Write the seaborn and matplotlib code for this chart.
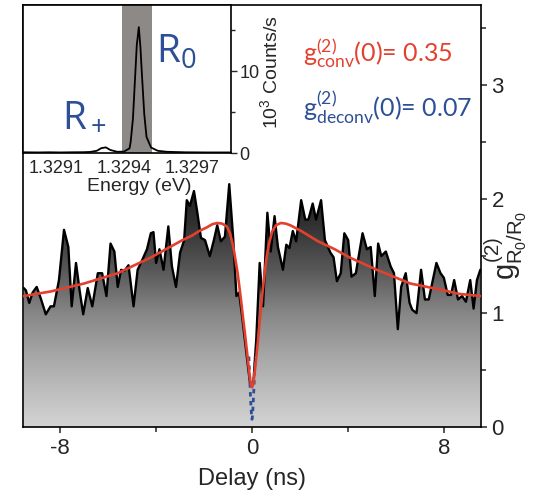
import numpy as np
import pandas as pd
import matplotlib
matplotlib.use("Agg")
import matplotlib.pyplot as plt
import seaborn as sns
from matplotlib.colors import LinearSegmentedColormap
from matplotlib.patches import Polygon
from matplotlib.ticker import MultipleLocator, FixedLocator
from matplotlib.transforms import ScaledTranslation

# ---------------- data ----------------
delay_ns = [-9.52, -9.43, -9.29, -9.15, -8.98, -8.81, -8.60, -8.40, -8.26, -8.05, -7.84,
            -7.66, -7.52, -7.34, -7.19, -7.04, -6.85, -6.66, -6.43, -6.25, -6.07,
            -5.90, -5.74, -5.60, -5.46, -5.32, -5.15, -4.94, -4.77, -4.59, -4.38,
            -4.22, -4.11, -4.00, -3.86, -3.69, -3.49, -3.34, -3.17, -3.00, -2.83,
            -2.72, -2.59, -2.42, -2.28, -2.13, -1.96, -1.76, -1.59, -1.45, -1.30,
            -1.13, -0.95, -0.79, -0.65, -0.54, -0.40, -0.24, -0.08, 0.06, 0.18,
            0.32, 0.46, 0.64, 0.78, 0.94, 1.08, 1.29, 1.43, 1.56, 1.70,
            1.84, 2.05, 2.22, 2.35, 2.53, 2.67, 2.88, 3.04, 3.27, 3.40,
            3.54, 3.70, 3.85, 4.01, 4.15, 4.33, 4.61, 4.79, 4.95, 5.12,
            5.26, 5.39, 5.58, 5.78, 5.92, 6.08, 6.22, 6.41, 6.57, 6.68,
            6.86, 7.05, 7.21, 7.37, 7.51, 7.69, 7.86, 8.00, 8.16, 8.30,
            8.43, 8.59, 8.76, 8.92, 9.10, 9.24, 9.38, 9.52]
g2_measured = [1.22, 1.20, 1.09, 1.18, 1.23, 1.13, 0.99, 1.06, 1.06, 1.29, 1.73,
               1.58, 1.06, 1.44, 1.20, 0.99, 1.22, 1.06, 1.35, 1.35, 1.15,
               1.61, 1.54, 1.23, 1.38, 1.37, 1.42, 1.06, 1.38, 1.46, 1.56,
               1.70, 1.71, 1.44, 1.56, 1.38, 1.76, 1.41, 1.23, 1.53, 1.64,
               1.99, 1.94, 2.07, 1.88, 1.66, 1.64, 1.50, 1.64, 1.77, 1.63,
               1.67, 2.13, 1.67, 1.15, 1.18, 0.95, 0.66, 0.38, 0.40, 0.78,
               1.44, 1.06, 1.88, 1.54, 1.85, 1.58, 1.38, 1.60, 1.57, 1.72,
               1.63, 1.99, 1.82, 1.82, 1.96, 1.82, 1.99, 1.64, 1.53, 1.49,
               1.28, 1.35, 1.70, 1.64, 1.32, 1.35, 1.70, 1.56, 1.58, 1.15,
               1.61, 1.50, 1.54, 1.41, 1.35, 0.86, 1.23, 1.35, 1.09, 1.03,
               1.00, 1.38, 1.12, 1.12, 1.26, 1.44, 1.35, 1.31, 1.16, 1.16,
               1.29, 1.12, 1.15, 1.10, 1.29, 1.04, 1.29, 1.38]

fit_delay = [-9.52, -8.4, -7.0, -5.6, -4.2, -2.9, -2.5, -2.2, -1.9, -1.65, -1.45, -1.25,
             -1.05, -0.92, -0.8, -0.7, -0.6, -0.52, -0.45, -0.38, -0.3, -0.23, -0.16,
             -0.1, -0.05, 0.0, 0.05, 0.1, 0.16, 0.23, 0.3, 0.37, 0.44, 0.52, 0.6,
             0.72, 0.85, 1.0, 1.2, 1.4, 1.6, 2.05, 2.75, 3.45, 4.05, 5.2, 6.6,
             8.0, 8.6, 9.52]
fit_conv = [1.15, 1.19, 1.26, 1.35, 1.49, 1.64, 1.68, 1.72, 1.75, 1.78, 1.79, 1.785,
            1.76, 1.70, 1.60, 1.48, 1.35, 1.22, 1.10, 0.97, 0.83, 0.70, 0.57,
            0.46, 0.38, 0.35, 0.38, 0.46, 0.58, 0.72, 0.88, 1.04, 1.19, 1.34, 1.48,
            1.62, 1.72, 1.77, 1.79, 1.785, 1.77, 1.72, 1.63, 1.56, 1.49, 1.38, 1.26,
            1.20, 1.17, 1.15]

deconv_delay = [-0.13, -0.10, -0.07, -0.045, -0.02, 0.0, 0.02, 0.045, 0.07, 0.10, 0.13]
deconv_g2 = [0.62, 0.45, 0.30, 0.19, 0.10, 0.07, 0.10, 0.19, 0.30, 0.45, 0.62]

energy_ev = [1.32898, 1.32905, 1.32910, 1.32915, 1.32920, 1.32925, 1.32928, 1.32931,
             1.32933, 1.32935, 1.32937, 1.32940, 1.32943, 1.329455, 1.32946, 1.32947,
             1.32948, 1.329487, 1.329496, 1.329503, 1.32951, 1.32952, 1.32953, 1.32955,
             1.32958, 1.32962, 1.32970, 1.32980, 1.32991]
counts_k = [0.12, 0.10, 0.12, 0.10, 0.12, 0.13, 0.16, 0.30,
            0.62, 0.72, 0.40, 0.18, 0.20, 0.6, 1.4, 4.2,
            9.5, 13.2, 15.4, 13.0, 9.5, 4.8, 2.0, 0.7,
            0.3, 0.18, 0.12, 0.10, 0.10]
filter_band = [1.329422, 1.329555]

delay_ticks = [-8, 0, 8]
g2_ticks = [0, 1, 2, 3]
energy_ticks = [1.3291, 1.3294, 1.3297]
energy_ticklabels = ["1.3291", "1.3294", "1.3297"]

# ---------------- style ----------------
sns.set_style("white")
plt.rcParams["font.family"] = ["Liberation Sans", "DejaVu Sans"]
plt.rcParams["mathtext.fontset"] = "custom"
plt.rcParams["mathtext.rm"] = "Liberation Sans"
plt.rcParams["mathtext.it"] = "Liberation Sans"
plt.rcParams["axes.linewidth"] = 1.2
plt.rcParams["axes.unicode_minus"] = False

RED = "#e4402e"
BLUE = "#2c4f97"
fig = plt.figure(figsize=(5.57, 4.96), dpi=100)
ax = fig.add_axes([0.0413, 0.1385, 0.8223, 0.8514])

df = pd.DataFrame({"delay": delay_ns, "g2": g2_measured})
fit_df = pd.DataFrame({"delay": fit_delay, "g2": fit_conv})
dec_df = pd.DataFrame({"delay": deconv_delay, "g2": deconv_g2})

xlo, xhi = -9.55, 9.55
ylo, yhi = 0.0, 3.70

# gray gradient under the measured curve
grad_cmap = LinearSegmentedColormap.from_list(
    "under", [(0.0, (0.83,) * 3), (0.18, (0.72,) * 3), (0.30, (0.64,) * 3),
              (0.45, (0.53,) * 3), (0.63, (0.34,) * 3), (0.81, (0.19,) * 3),
              (1.0, (0.10,) * 3)])
grad = np.linspace(0, 1, 256).reshape(-1, 1)
im = ax.imshow(grad, cmap=grad_cmap, vmin=0, vmax=1, origin="lower", aspect="auto",
               extent=[xlo, xhi, 0.0, 2.2], zorder=1, interpolation="bicubic")
verts = list(zip(df["delay"], df["g2"])) + [(df["delay"].iloc[-1], 0.0), (df["delay"].iloc[0], 0.0)]
clip = Polygon(verts, closed=True, transform=ax.transData, facecolor="none", edgecolor="none")
ax.add_patch(clip)
im.set_clip_path(clip)

sns.lineplot(data=df, x="delay", y="g2", ax=ax, color="black", lw=1.7, zorder=3)
sns.lineplot(data=dec_df, x="delay", y="g2", ax=ax, color=BLUE, lw=2.0, zorder=4,
             linestyle=(0, (1.6, 1.6)))
sns.lineplot(data=fit_df, x="delay", y="g2", ax=ax, color=RED, lw=1.9, zorder=5)

ax.set_xlim(xlo, xhi)
ax.set_ylim(ylo, yhi)
ax.yaxis.tick_right()
ax.yaxis.set_label_position("right")
ax.xaxis.set_major_locator(FixedLocator(delay_ticks))
ax.xaxis.set_minor_locator(FixedLocator([-4, 4]))
ax.yaxis.set_major_locator(FixedLocator(g2_ticks))
ax.yaxis.set_minor_locator(MultipleLocator(0.5))
ax.tick_params(axis="both", which="major", direction="out", length=4.5, width=1.1,
               labelsize=16, pad=3)
ax.tick_params(axis="both", which="minor", direction="out", length=3.5, width=1.1)
ax.tick_params(axis="y", which="both", left=False, right=True)
ax.tick_params(axis="x", which="both", top=False, bottom=True)
ax.set_xlabel("Delay (ns)", fontsize=17, labelpad=7)
ax.set_ylabel(r"$g^{(2)}_{R_0/R_0}$", fontsize=21, rotation=90)
ax.yaxis.set_label_coords(1.005, 0.43)
for s in ax.spines.values():
    s.set_color("black")
    s.set_linewidth(1.2)

# colored annotations
txt_font = ["Lato", "DejaVu Sans"]
fig.text(303 / 557, 1 - 62 / 496, r"$\mathregular{g^{(2)}_{conv}(0)}$= 0.35", color=RED,
         fontsize=18, family=txt_font, ha="left", va="baseline")
fig.text(303 / 557, 1 - 118 / 496, r"$\mathregular{g^{(2)}_{deconv}(0)}$= 0.07", color=BLUE,
         fontsize=18, family=txt_font, ha="left", va="baseline")

# inset spectrum
ins = fig.add_axes([0.0413, 0.691, 0.3734, 0.2989])
ins.set_facecolor("white")
ins.axvspan(filter_band[0], filter_band[1], color="#8c8987", lw=0, zorder=1)
spec = pd.DataFrame({"energy": energy_ev, "counts": counts_k})
sns.lineplot(data=spec, x="energy", y="counts", ax=ins, color="black", lw=1.3, zorder=3)
ins.set_xlim(1.328984, 1.3299035)
ins.set_ylim(0, 18.1)
ins.yaxis.tick_right()
ins.yaxis.set_label_position("right")
ins.xaxis.set_major_locator(FixedLocator(energy_ticks))
ins.set_xticklabels(energy_ticklabels)
ins.yaxis.set_major_locator(FixedLocator([0, 10]))
ins.yaxis.set_minor_locator(FixedLocator([5, 15]))
ins.tick_params(axis="x", which="major", direction="out", length=2.5, width=1.0,
                labelsize=13, pad=2.5)
ins.tick_params(axis="y", which="major", direction="out", length=4, width=1.0,
                labelsize=13, pad=2, left=False, right=True)
ins.tick_params(axis="y", which="minor", direction="out", length=3, width=1.0,
                left=False, right=True)
shift = ScaledTranslation(0.07, 0, fig.dpi_scale_trans)
for lab in ins.get_xticklabels():
    lab.set_transform(lab.get_transform() + shift)
ins.set_xlabel("Energy (eV)", fontsize=14)
ins.xaxis.set_label_coords(0.56, -0.165)
ins.set_ylabel(r"10$^3$ Counts/s", fontsize=14)
ins.yaxis.set_label_coords(1.135, 0.55)
for name, s in ins.spines.items():
    s.set_color("black")
    s.set_linewidth(1.2)

ins.text(1.329158, 3.2, r"$\mathregular{R_+}$", color=BLUE, fontsize=28, family=["Open Sans", "DejaVu Sans"],
         ha="left", va="baseline", zorder=5)
ins.text(1.329570, 11.0, r"$\mathregular{R_0}$", color=BLUE, fontsize=28, family=["Open Sans", "DejaVu Sans"],
         ha="left", va="baseline", zorder=5)

fig.savefig("out.png", dpi=100)
